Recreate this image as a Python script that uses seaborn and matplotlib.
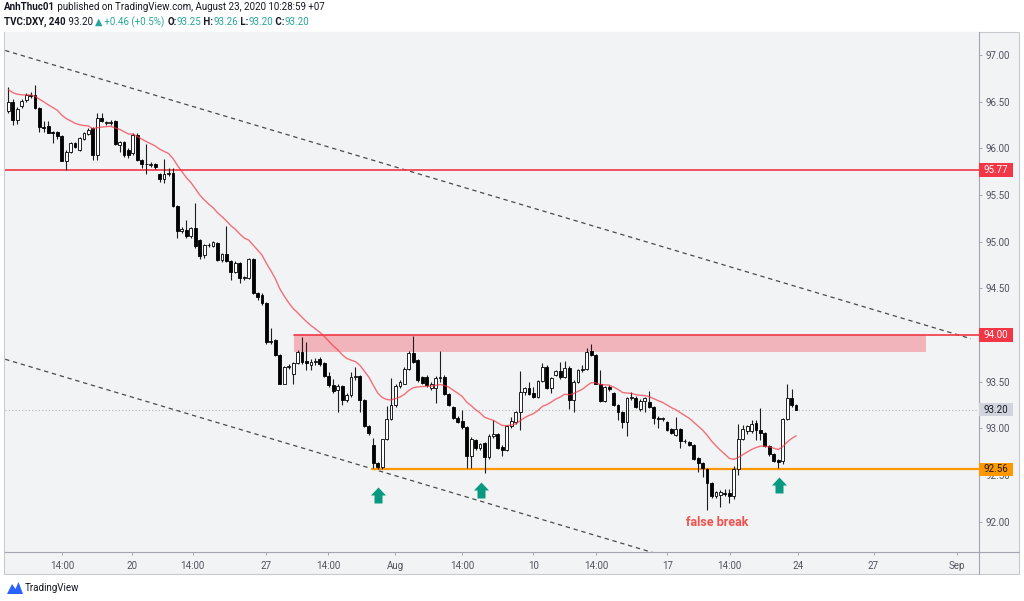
import numpy as np
import pandas as pd
import seaborn as sns
import matplotlib.pyplot as plt
import matplotlib.transforms as mtransforms
from matplotlib.patches import Rectangle, Polygon
from matplotlib.lines import Line2D
from matplotlib.path import Path

# ---- TVC:DXY 240-minute bars (bar 0 = first visible bar) ----
opens = [96.40, 96.50, 96.30, 96.45, 96.52, 96.57, 96.57, 96.43, 96.23, 96.24,
         96.18, 96.18, 96.13, 95.87, 95.96, 96.06, 95.98, 96.10, 96.15, 96.22,
         95.93, 96.33, 96.27, 96.27, 96.29, 96.04, 96.07, 95.98, 95.95, 96.14,
         95.88, 95.83, 95.82, 95.83, 95.73, 95.67, 95.73, 95.74, 95.38, 95.11,
         95.13, 95.06, 95.15, 95.02, 94.86, 94.97, 94.95, 94.99, 94.80, 94.87,
         94.79, 94.68, 94.77, 94.61, 94.61, 94.81, 94.45, 94.43, 94.34, 93.92,
         93.95, 93.79, 93.48, 93.66, 93.58, 93.70, 93.82, 93.72, 93.68, 93.71,
         93.74, 93.70, 93.56, 93.46, 93.41, 93.45, 93.30, 93.36, 93.55, 93.56,
         93.30, 93.02, 92.82, 92.63, 92.59, 92.88, 93.10, 93.25, 93.45, 93.48,
         93.64, 93.81, 93.73, 93.55, 93.55, 93.43, 93.43, 93.54, 93.55, 93.37,
         93.23, 93.11, 93.08, 93.01, 92.70, 92.87, 92.79, 92.84, 92.69, 92.92,
         92.94, 92.80, 92.77, 93.02, 93.07, 93.18, 93.39, 93.43, 93.38, 93.34,
         93.51, 93.66, 93.43, 93.57, 93.61, 93.55, 93.65, 93.30, 93.50, 93.62,
         93.64, 93.83, 93.79, 93.48, 93.29, 93.44, 93.38, 93.25, 93.18, 93.07,
         93.32, 93.33, 93.21, 93.29, 93.28, 93.23, 93.11, 93.10, 93.07, 92.99,
         92.93, 92.99, 92.86, 92.85, 92.82, 92.68, 92.63, 92.56, 92.41, 92.27,
         92.29, 92.31, 92.31, 92.27, 92.56, 92.88, 92.97, 92.97, 93.06, 92.98,
         92.95, 92.81, 92.72, 92.66, 92.65, 93.10, 93.32, 93.25]
highs = [96.66, 96.53, 96.44, 96.53, 96.59, 96.60, 96.68, 96.44, 96.29, 96.29,
         96.19, 96.19, 96.14, 95.98, 96.07, 96.07, 96.12, 96.18, 96.22, 96.23,
         96.38, 96.38, 96.29, 96.30, 96.31, 96.08, 96.08, 96.00, 96.17, 96.16,
         95.89, 96.05, 95.85, 95.84, 95.74, 95.89, 95.79, 95.79, 95.39, 95.16,
         95.23, 95.16, 95.41, 95.03, 94.98, 94.99, 95.01, 95.00, 94.88, 95.17,
         94.80, 94.79, 94.78, 94.63, 94.83, 94.83, 94.46, 94.45, 94.35, 94.07,
         93.96, 93.80, 93.67, 93.69, 93.71, 93.84, 93.98, 93.93, 93.74, 93.75,
         93.76, 93.71, 93.60, 93.53, 93.47, 93.46, 93.38, 93.60, 93.66, 93.57,
         93.31, 93.03, 92.90, 92.64, 92.89, 93.24, 93.54, 93.47, 93.52, 93.66,
         93.83, 93.99, 93.74, 93.56, 93.57, 93.50, 93.56, 93.83, 93.57, 93.38,
         93.24, 93.13, 93.20, 93.02, 92.91, 92.89, 92.84, 92.85, 92.94, 93.09,
         92.95, 92.82, 93.03, 93.12, 93.19, 93.61, 93.44, 93.50, 93.44, 93.52,
         93.70, 93.68, 93.55, 93.62, 93.71, 93.72, 93.67, 93.52, 93.64, 93.68,
         93.86, 93.90, 93.80, 93.63, 93.45, 93.46, 93.39, 93.26, 93.19, 93.34,
         93.39, 93.35, 93.31, 93.34, 93.40, 93.24, 93.13, 93.12, 93.08, 93.00,
         93.12, 93.00, 92.88, 92.86, 92.83, 92.69, 92.64, 92.57, 92.42, 92.33,
         92.34, 92.35, 92.35, 92.60, 93.05, 93.04, 93.04, 93.09, 93.09, 93.22,
         92.96, 92.82, 92.73, 92.67, 93.11, 93.47, 93.42, 93.26]
lows = [96.38, 96.25, 96.26, 96.43, 96.50, 96.54, 96.42, 96.18, 96.18, 96.16,
        96.06, 96.10, 95.86, 95.77, 95.95, 96.00, 95.97, 96.09, 96.14, 95.88,
        95.88, 96.28, 96.25, 96.25, 96.04, 95.96, 95.91, 95.90, 95.93, 95.86,
        95.79, 95.73, 95.80, 95.78, 95.64, 95.63, 95.70, 95.37, 95.04, 95.09,
        95.04, 95.04, 94.93, 94.81, 94.83, 94.94, 94.94, 94.79, 94.78, 94.78,
        94.59, 94.66, 94.56, 94.59, 94.60, 94.44, 94.38, 94.32, 93.90, 93.90,
        93.77, 93.47, 93.47, 93.64, 93.48, 93.69, 93.69, 93.62, 93.62, 93.68,
        93.67, 93.55, 93.44, 93.38, 93.18, 93.25, 93.28, 93.34, 93.52, 93.18,
        93.01, 92.93, 92.57, 92.56, 92.56, 92.87, 93.09, 93.23, 93.43, 93.47,
        93.63, 93.70, 93.50, 93.47, 93.44, 93.41, 93.27, 93.50, 93.36, 93.24,
        93.10, 93.06, 92.99, 92.57, 92.57, 92.77, 92.77, 92.52, 92.67, 92.90,
        92.78, 92.70, 92.76, 93.00, 93.05, 92.98, 93.36, 93.36, 93.33, 93.33,
        93.50, 93.42, 93.38, 93.56, 93.53, 93.54, 93.21, 93.18, 93.49, 93.60,
        93.62, 93.77, 93.47, 93.28, 93.28, 93.40, 93.24, 93.09, 93.00, 92.92,
        93.30, 93.22, 93.19, 93.17, 93.22, 93.05, 93.00, 93.08, 92.97, 92.94,
        92.92, 92.79, 92.84, 92.81, 92.66, 92.53, 92.48, 92.12, 92.25, 92.25,
        92.16, 92.27, 92.20, 92.24, 92.50, 92.87, 92.94, 92.95, 92.87, 92.87,
        92.80, 92.70, 92.64, 92.57, 92.62, 93.09, 93.23, 93.20]
closes = [96.50, 96.30, 96.42, 96.51, 96.57, 96.56, 96.43, 96.23, 96.22, 96.17,
          96.17, 96.13, 95.87, 95.96, 96.06, 96.02, 96.11, 96.16, 96.20, 95.93,
          96.33, 96.29, 96.27, 96.28, 96.05, 96.07, 95.93, 95.93, 96.14, 95.88,
          95.83, 95.83, 95.83, 95.80, 95.67, 95.73, 95.74, 95.38, 95.11, 95.14,
          95.06, 95.15, 94.95, 94.85, 94.96, 94.96, 95.00, 94.80, 94.87, 94.79,
          94.68, 94.77, 94.61, 94.62, 94.82, 94.45, 94.41, 94.34, 93.92, 93.94,
          93.79, 93.48, 93.66, 93.67, 93.70, 93.82, 93.71, 93.70, 93.71, 93.72,
          93.69, 93.56, 93.46, 93.40, 93.45, 93.30, 93.36, 93.55, 93.56, 93.30,
          93.02, 92.95, 92.63, 92.59, 92.88, 93.10, 93.25, 93.45, 93.50, 93.64,
          93.81, 93.71, 93.52, 93.49, 93.46, 93.48, 93.54, 93.55, 93.37, 93.25,
          93.11, 93.07, 93.01, 92.70, 92.89, 92.79, 92.83, 92.69, 92.92, 92.94,
          92.79, 92.77, 93.02, 93.08, 93.18, 93.39, 93.43, 93.37, 93.34, 93.51,
          93.66, 93.43, 93.54, 93.61, 93.55, 93.65, 93.30, 93.50, 93.62, 93.64,
          93.82, 93.79, 93.48, 93.29, 93.44, 93.42, 93.25, 93.18, 93.07, 93.32,
          93.34, 93.23, 93.29, 93.32, 93.23, 93.11, 93.10, 93.10, 92.98, 92.95,
          92.99, 92.86, 92.86, 92.82, 92.67, 92.63, 92.57, 92.41, 92.27, 92.32,
          92.32, 92.30, 92.27, 92.56, 92.88, 92.99, 93.02, 93.05, 92.98, 92.95,
          92.81, 92.72, 92.65, 92.64, 93.10, 93.32, 93.25, 93.20]

# EMA(20) of close; its level at the left edge comes from history off-screen, so read it
ma_span = 20
ma_start = 96.63

# time axis (weekends removed, so ticks sit at bar positions)
tick_pos = [12.1, 27.9, 41.4, 58.0, 71.9, 86.9, 102.0, 118.0, 132.0, 148.1, 162.1, 177.5, 194.4, 213.2]
tick_labels = ["14:00", "20", "14:00", "27", "14:00", "Aug", "14:00", "10", "14:00",
               "17", "14:00", "24", "27", "Sep"]
price_ticks = [92.0, 92.5, 93.0, 93.5, 94.0, 94.5, 95.0, 95.5, 96.0, 96.5, 97.0]

# drawings
level_top = 95.77
zone_top, zone_bottom = 94.00, 93.82
zone_start, zone_end = 64.2, 206.2
support, support_start = 92.56, 81.7
last_price = 93.20
channel_x = [-0.7, 216.3]
channel_upper = [97.05, 93.96]
channel_lower = [93.74, 90.65]
arrow_bars = [83.1, 106.2, 173.2]
arrow_prices = [92.29, 92.34, 92.39]
note_bar, note_price = 159.3, 91.99

RED = "#f23645"
ORANGE = "#ff9800"
TEAL = "#26a69a"
ARROW = "#089981"
DARK = "#131722"
PANE = "#f2f3f5"
FRAME = "#a3a6af"

sns.set_theme(style="white")
plt.rcParams["font.family"] = ["Roboto", "DejaVu Sans"]

W, H = 1024, 601
fig = plt.figure(figsize=(W / 100, H / 100), dpi=100, facecolor="white")


def fx(px):
    return px / W


def fy(py):
    return 1 - py / H


# chart panel behind everything
fig.patches.append(Rectangle((fx(4), fy(574)), fx(1019) - fx(4), fy(32) - fy(574),
                             transform=fig.transFigure, facecolor=PANE,
                             edgecolor="#c8cad0", linewidth=0.8, zorder=-5))

ax = fig.add_axes([fx(5), fy(552), fx(979) - fx(5), fy(32) - fy(552)])
ax.set_zorder(1)
ax.set_facecolor(PANE)
ax.set_xlim(-0.74, 218.1)
ax.set_ylim(91.674, 97.248)

df = pd.DataFrame({"bar": np.arange(len(closes)), "open": opens, "high": highs,
                   "low": lows, "close": closes})

# channel lines
ax.plot(channel_x, channel_upper, color="#4a4a4a", lw=0.9, ls=(0, (3.5, 3)), zorder=2)
ax.plot(channel_x, channel_lower, color="#4a4a4a", lw=0.9, ls=(0, (3.5, 3)), zorder=2)

# levels and supply zone
ax.axhline(level_top, color=RED, lw=1.2, zorder=2)
ax.add_patch(Rectangle((zone_start, zone_bottom), zone_end - zone_start, zone_top - zone_bottom,
                       facecolor=RED, alpha=0.33, edgecolor="none", zorder=1))
ax.plot([zone_start, 218.1], [zone_top, zone_top], color=RED, lw=1.2, zorder=2)
ax.plot([support_start, 218.1], [support, support], color=ORANGE, lw=1.6, zorder=2)
ax.axhline(last_price, color="#b2b5be", lw=0.8, ls=(0, (1, 2)), zorder=1)

# candles
up = df["close"] >= df["open"]
ax.vlines(df["bar"], df["low"], df["high"], color="#1e1e1e", lw=0.8, zorder=3)
body = (df["close"] - df["open"]).abs().clip(lower=0.008)
ax.bar(df["bar"], body, bottom=np.minimum(df["open"], df["close"]), width=0.64,
       color=np.where(up, "white", "black"), edgecolor="black", linewidth=0.6, zorder=4)

# exponential moving average, seeded with the level read at the left edge
seed = df["close"].copy()
seed.iloc[0] = ma_start
df["ma"] = seed.ewm(span=ma_span, adjust=False).mean()
sns.lineplot(data=df, x="bar", y="ma", ax=ax, color=RED, alpha=0.7, lw=1.0, zorder=5)

# up arrows
arrow_path = Path([(0, 1), (0.94, 0), (0.5, 0), (0.5, -1), (-0.5, -1), (-0.5, 0), (-0.94, 0), (0, 1)],
                  [Path.MOVETO] + [Path.LINETO] * 6 + [Path.CLOSEPOLY])
ax.plot(arrow_bars, arrow_prices, ls="none", marker=arrow_path, ms=11.5,
        color=ARROW, mec="none", zorder=6)
ax.text(note_bar, note_price, "false break", color="#ef5350", fontsize=9,
        fontweight="bold", ha="center", va="center", zorder=6)

# axes look
for side in ["left", "top"]:
    ax.spines[side].set_visible(False)
for side in ["right", "bottom"]:
    ax.spines[side].set_color(FRAME)
    ax.spines[side].set_linewidth(0.8)
ax.yaxis.tick_right()
ax.set_yticks(price_ticks)
ax.set_yticklabels([f"{p:.2f}" for p in price_ticks])
ax.set_xticks(tick_pos)
ax.set_xticklabels(tick_labels)
ax.tick_params(axis="both", which="both", length=2.4, width=0.7, color=FRAME,
               labelsize=7, labelcolor="#50535e")
ax.tick_params(axis="y", pad=2, right=True, left=False)
ax.tick_params(axis="x", pad=4, bottom=True)
ax.set_xlabel("")
ax.set_ylabel("")
ax.grid(False)

# price labels on the scale
trans = mtransforms.blended_transform_factory(ax.transAxes, ax.transData)
px_per_price = (552 - 32) / (97.248 - 91.674)
box_w = 34 / (979 - 5)
box_h = 13.5 / px_per_price
for price, face, txt in [(level_top, RED, "white"), (zone_top, RED, "white"),
                         (last_price, "#d1d4dc", DARK), (support, ORANGE, DARK)]:
    ax.add_patch(Rectangle((1.0, price - box_h / 2), box_w, box_h, transform=trans,
                           facecolor=face, edgecolor="none", clip_on=False, zorder=10))
    ax.text(1.0 + box_w / 2, price, f"{price:.2f}", transform=trans, color=txt,
            fontsize=7, ha="center", va="center", clip_on=False, zorder=11)

# extend the scale separators through the corner
fig.lines.append(Line2D([fx(979), fx(979)], [fy(552), fy(574)], transform=fig.transFigure,
                        color=FRAME, lw=0.8))
fig.lines.append(Line2D([fx(979), fx(1019)], [fy(552), fy(552)], transform=fig.transFigure,
                        color=FRAME, lw=0.8))

# header
renderer = fig.canvas.get_renderer()


def write_runs(x_px, y_px, runs, size=7.0):
    x = fx(x_px)
    for txt, color, weight in runs:
        t = fig.text(x, fy(y_px), txt, color=color, fontsize=size, fontweight=weight,
                     ha="left", va="center")
        x += t.get_window_extent(renderer).width / W


write_runs(4, 7, [("AnhThuc01", DARK, "bold"),
                  (" published on TradingView.com, August 23, 2020 10:28:59 +07", DARK, "normal")])
write_runs(4, 22, [("TVC:DXY, 240", DARK, "bold"), (" 93.20 ", DARK, "normal"),
                   ("▲", TEAL, "normal"), (" +0.46 (+0.5%) ", TEAL, "normal"),
                   ("O:", DARK, "bold"), ("93.25", TEAL, "normal"),
                   (" H:", DARK, "bold"), ("93.26", TEAL, "normal"),
                   (" L:", DARK, "bold"), ("93.20", TEAL, "normal"),
                   (" C:", DARK, "bold"), ("93.20", TEAL, "normal")])

# footer logo
fig.patches.append(Polygon([(fx(7), fy(594)), (fx(12), fy(584)), (fx(15.5), fy(589)),
                            (fx(18.5), fy(582)), (fx(23), fy(594))],
                           closed=True, transform=fig.transFigure, facecolor="#2962ff",
                           edgecolor="none"))
fig.text(fx(25), fy(588), "TradingView", color=DARK, fontsize=7, ha="left", va="center")

fig.savefig("out.png", dpi=100, facecolor="white")
